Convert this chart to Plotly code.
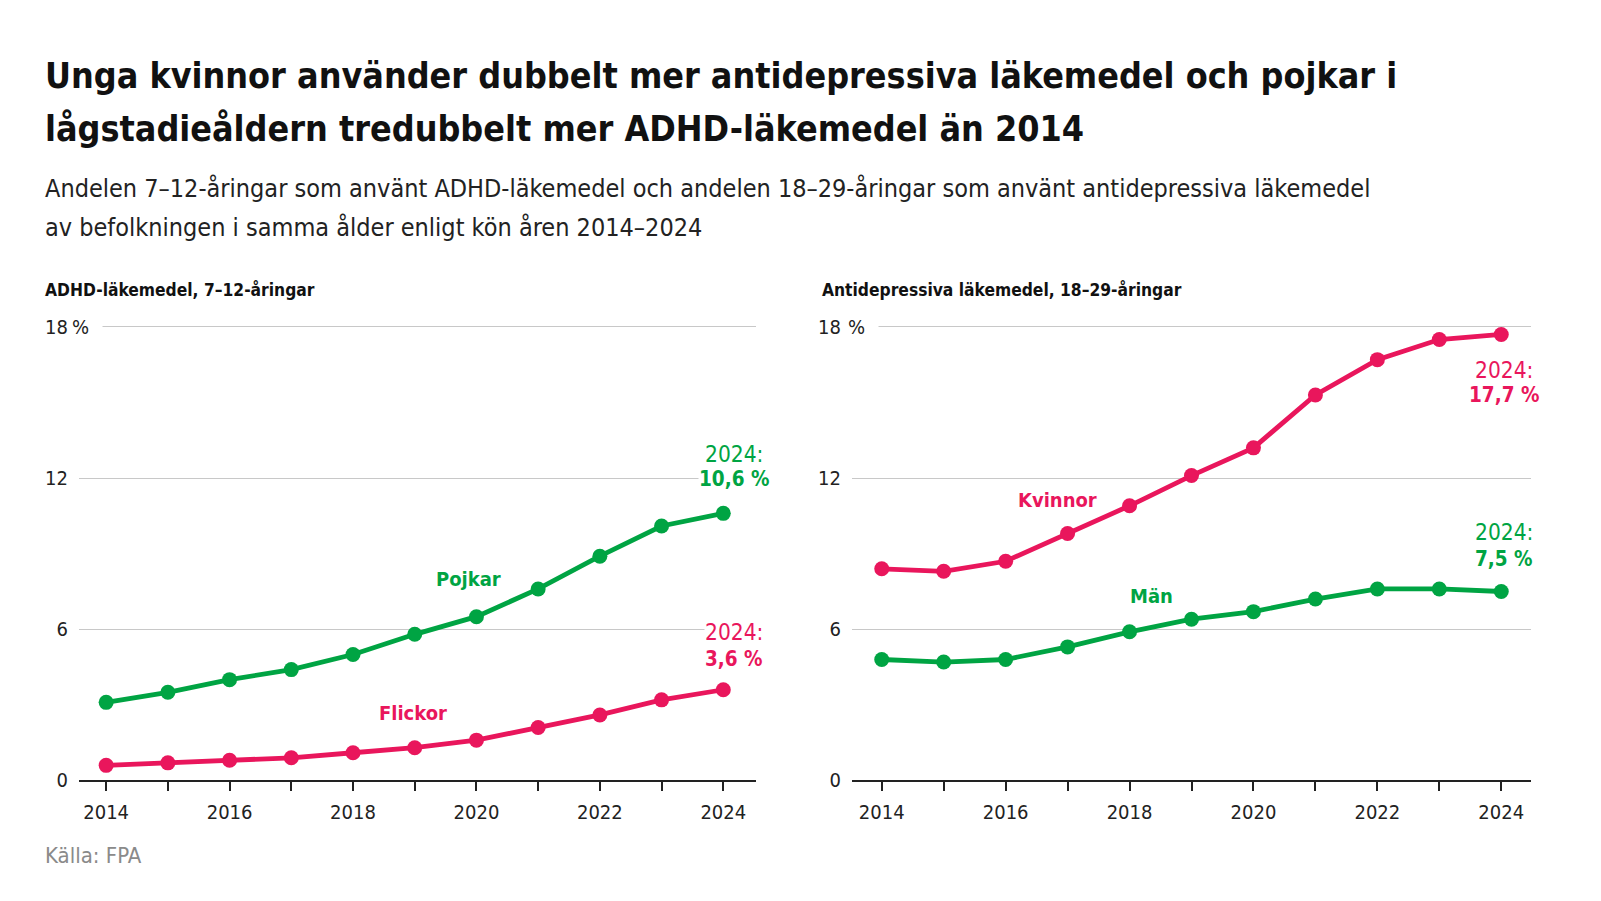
import plotly.graph_objects as go
from plotly.subplots import make_subplots

# ---- data (percent of population) ----
years = list(range(2014, 2025))

adhd_boys = [3.1, 3.5, 4.0, 4.4, 5.0, 5.8, 6.5, 7.6, 8.9, 10.1, 10.6]
adhd_girls = [0.6, 0.7, 0.8, 0.9, 1.1, 1.3, 1.6, 2.1, 2.6, 3.2, 3.6]

antidep_women = [8.4, 8.3, 8.7, 9.8, 10.9, 12.1, 13.2, 15.3, 16.7, 17.5, 17.7]
antidep_men = [4.8, 4.7, 4.8, 5.3, 5.9, 6.4, 6.7, 7.2, 7.6, 7.6, 7.5]

y_ticks = [0, 6, 12, 18]
x_ticktext = ["2014", "", "2016", "", "2018", "", "2020", "", "2022", "", "2024"]

# ---- style ----
GREEN = "#00a443"
PINK = "#e9165c"
FONT = "DejaVu Sans Condensed, Roboto, sans-serif"
W, H = 1601, 901

fig = make_subplots(rows=1, cols=2)


def add_line(vals, color, col):
    fig.add_trace(
        go.Scatter(
            x=years, y=vals, mode="lines+markers",
            line=dict(color=color, width=4.8),
            marker=dict(color=color, size=15),
            hoverinfo="x+y", showlegend=False,
        ),
        row=1, col=col,
    )


add_line(adhd_boys, GREEN, 1)
add_line(adhd_girls, PINK, 1)
add_line(antidep_men, GREEN, 2)
add_line(antidep_women, PINK, 2)

# axes: pixel domains converted to paper fractions
y_dom = [(H - 791) / H, (H - 316) / H]
fig.update_layout(
    xaxis=dict(domain=[79 / W, 756 / W], range=[2013.56, 2024.53]),
    xaxis2=dict(domain=[852 / W, 1531 / W], range=[2013.52, 2024.48]),
    yaxis=dict(domain=y_dom),
    yaxis2=dict(domain=y_dom),
)
fig.update_xaxes(
    tickvals=years, ticktext=x_ticktext, ticks="outside", ticklen=9,
    tickwidth=1.5, tickcolor="#222", showline=True, linecolor="#222",
    linewidth=2, showgrid=False, zeroline=False, ticklabelstandoff=4,
    tickfont=dict(size=20, color="#222", family=FONT),
)
fig.update_yaxes(
    range=[0, 18.6], tickvals=y_ticks, ticktext=[str(v) for v in y_ticks],
    showgrid=True, gridcolor="#c8c8c8", gridwidth=1.2, zeroline=False,
    showline=False, ticks="", ticklabelstandoff=10,
    tickfont=dict(size=20, color="#222", family=FONT),
)

notes = []
# "%" after the top tick label, white box hides the start of the grid line
for ax, xpx in (("y", 71), ("y2", 847)):
    notes.append(dict(
        x=xpx / W, xref="paper", y=18, yref=ax, text="%", showarrow=False,
        xanchor="left", yanchor="middle", bgcolor="white",
        font=dict(size=20, color="#222", family=FONT),
        width=30, align="left", borderpad=0,
    ))


# series labels
def label(x, y, xr, yr, text, color):
    notes.append(dict(x=x, y=y, xref=xr, yref=yr, text="<b>" + text + "</b>",
                      showarrow=False, font=dict(size=20, color=color, family=FONT)))


label(2019.87, 8.0, "x", "y", "Pojkar", GREEN)
label(2018.97, 2.66, "x", "y", "Flickor", PINK)
label(2016.83, 11.14, "x2", "y2", "Kvinnor", PINK)
label(2018.35, 7.34, "x2", "y2", "Män", GREEN)


# end values: "2024:" on one line, the bold value below
def end_label(x, y_year, y_val, xr, yr, val, color):
    notes.append(dict(x=x, y=y_year, xref=xr, yref=yr, showarrow=False,
                      text="2024:", bgcolor="white", borderpad=0,
                      font=dict(size=22.5, color=color, family=FONT)))
    notes.append(dict(x=x, y=y_val, xref=xr, yref=yr, showarrow=False,
                      text="<b>" + val + "</b>", bgcolor="white", borderpad=0,
                      font=dict(size=20.5, color=color, family=FONT)))


end_label(2024.17, 12.95, 11.95, "x", "y", "10,6 %", GREEN)
end_label(2024.17, 5.89, 4.84, "x", "y", "3,6 %", PINK)
end_label(2024.05, 16.30, 15.29, "x2", "y2", "17,7 %", PINK)
end_label(2024.05, 9.85, 8.80, "x2", "y2", "7,5 %", GREEN)


def text_line(xpx, ypx, txt, size, color):
    notes.append(dict(
        x=xpx / W, y=1 - ypx / H, xref="paper", yref="paper", xanchor="left",
        yanchor="middle", align="left", showarrow=False, text=txt,
        font=dict(size=size, color=color, family=FONT),
    ))


# titles
text_line(43, 77, "<b>Unga kvinnor använder dubbelt mer antidepressiva läkemedel och pojkar i</b>", 35.6, "#111")
text_line(43, 130, "<b>lågstadieåldern tredubbelt mer ADHD-läkemedel än 2014</b>", 35.6, "#111")
text_line(43, 191, "Andelen 7–12-åringar som använt ADHD-läkemedel och andelen 18–29-åringar som använt antidepressiva läkemedel", 25, "#222")
text_line(43, 231, "av befolkningen i samma ålder enligt kön åren 2014–2024", 25, "#222")
text_line(43, 293, "<b>ADHD-läkemedel, 7–12-åringar</b>", 17.3, "#111")
text_line(820, 293, "<b>Antidepressiva läkemedel, 18–29-åringar</b>", 17.3, "#111")
text_line(43, 867, "Källa: FPA", 22, "#8a8a8a")

fig.update_layout(
    width=W, height=H,
    margin=dict(l=0, r=0, t=0, b=0),
    paper_bgcolor="white", plot_bgcolor="white",
    annotations=notes,
    font=dict(family=FONT),
)

# drop the default body margin so the figure fills the window exactly
fig.write_html(
    "out.html",
    config={"displayModeBar": False},
    post_script="document.body.style.margin='0';document.body.style.overflow='hidden';",
)
